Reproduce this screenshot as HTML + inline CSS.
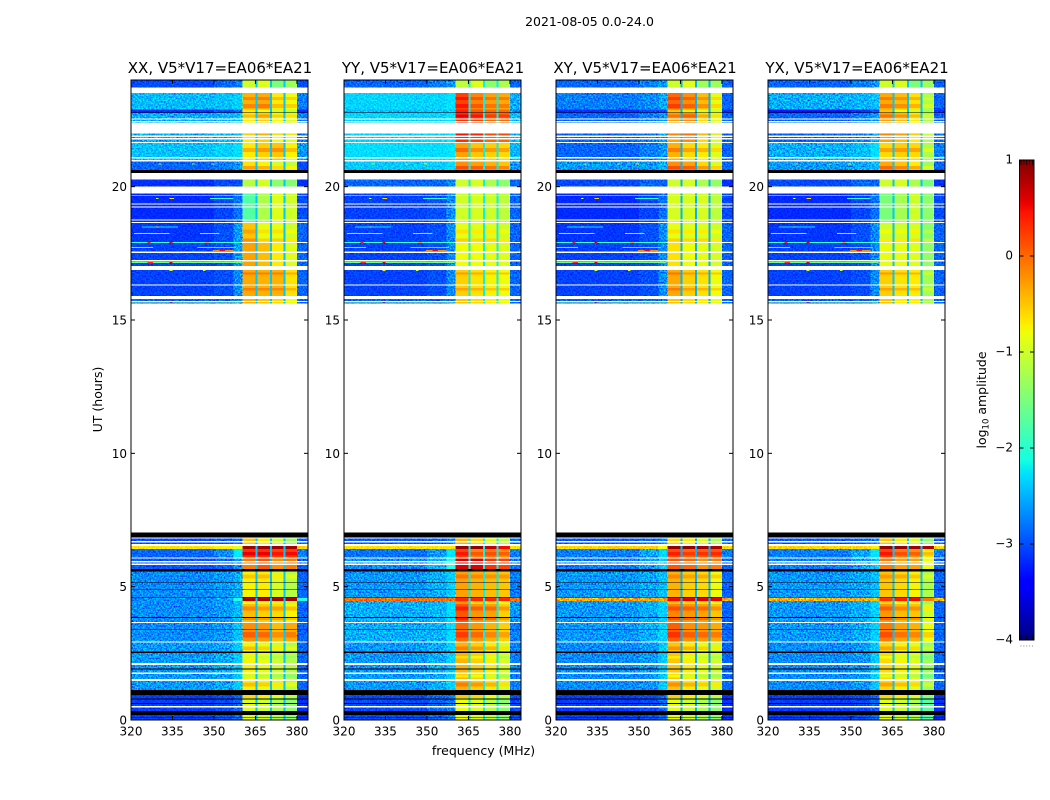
<!DOCTYPE html>
<html lang="en">
<head>
<meta charset="utf-8">
<title>2021-08-05 0.0-24.0</title>
<style>
html,body{margin:0;padding:0;background:#fff;width:1050px;height:800px;overflow:hidden}
svg{display:block}
text{font-family:"DejaVu Sans","Liberation Sans",sans-serif;fill:#000}
.tick{font-size:12px}
.ttl{font-size:15px}
.lbl{font-size:12.5px}
.cells rect{shape-rendering:crispEdges}
.grain{mix-blend-mode:overlay}
</style>
</head>
<body>
<svg id="fig" width="1050" height="800" viewBox="0 0 1050 800" xmlns="http://www.w3.org/2000/svg">
  <defs>
    <filter id="grainFilter" x="0" y="0" width="100%" height="100%" color-interpolation-filters="sRGB">
      <feTurbulence type="fractalNoise" baseFrequency="0.62" numOctaves="2" seed="7"/>
      <feColorMatrix type="matrix" values="1.8 0 0 0 -0.25  1.8 0 0 0 -0.25  1.8 0 0 0 -0.25  0 0 0 0 1"/>
    </filter>
    <linearGradient id="jetGradient" x1="0" y1="1" x2="0" y2="0"></linearGradient>
  </defs>
  <text class="lbl" x="589.5" y="26" text-anchor="middle">2021-08-05 0.0-24.0</text>
  <text class="lbl" x="483.5" y="755" text-anchor="middle">frequency (MHz)</text>
  <text class="lbl" transform="translate(102,399.5) rotate(-90)" text-anchor="middle">UT (hours)</text>
  <text class="lbl" transform="translate(986,400) rotate(-90)" text-anchor="middle">log<tspan font-size="8.5" dy="2.5">10</tspan><tspan dy="-2.5"> amplitude</tspan></text>
</svg>
<script>
// ---------- chart data ----------
const panelNames = ['XX', 'YY', 'XY', 'YX'];
const baselineName = 'V5*V17=EA06*EA21';
const xTicks = [320, 335, 350, 365, 380];
const yTicks = [0, 5, 10, 15, 20];
const cbarTicks = [1, 0, -1, -2, -3, -4];
const cbarTickLabels = ['1', '0', '\u22121', '\u22122', '\u22123', '\u22124'];
const cbarMinorFractions = [0.1, 0.3, 0.5, 0.7, 0.9];
const freqRange = [320, 384];
const timeRange = [0, 24];
const colorRange = [-4, 1];
// channel segments, MHz
const freqEdges = [320, 350, 357, 360.4, 365, 365.8, 370.2, 370.9, 375.2, 375.9, 380, 384];
// block value index for each segment: low, mid, edge, s1, gap, s2, gap, s3, gap, s4, oob
const segmentColumn = [0, 1, 2, 3, 'gap', 4, 'gap', 5, 'gap', 6, 7];
const gapLevels = { XX: -2.4, YY: -2.2, XY: -2.5, YX: -2.4 };

// time rows: [start UT, end UT, block]; block -1 = blacked out; anything not listed stays blank
const timeRows = [
[0,.09,21],[.09,.12,-1],[.12,.19,21],[.19,.34,-1],[.34,.46,21],[.52,.6,21],[.6,.63,-1],[.63,.76,21],[.76,.81,-1],[.81,.94,21],[.94,1.12,-1],
[1.12,1.47,20],[1.53,1.72,20],[1.79,1.9,20],[1.9,1.94,-1],[1.94,2.07,20],[2.13,2.52,20],[2.52,2.56,-1],[2.56,2.9,20],
[2.94,3.39,19],[3.39,3.41,-1],[3.41,3.64,19],[3.67,3.82,18],[3.82,3.86,-1],[3.86,4.46,18],[4.46,4.59,17],[4.59,4.61,-1],
[4.61,4.89,16],[4.89,4.91,-1],[4.91,5.14,16],[5.14,5.16,-1],[5.16,5.56,16],[5.56,5.66,-1],
[5.66,5.81,15],[5.86,5.91,15],[5.96,6.06,15],[6.1,6.41,14],[6.41,6.52,13],[6.6,6.66,12],[6.71,6.81,12],[6.85,7.04,-1],
[15.62,15.68,11],[15.71,15.78,11],[15.9,16.3,10],[16.34,16.87,10],[17.02,17.2,9],[17.25,17.51,9],[17.56,17.89,9],
[17.93,18.64,8],[18.68,18.74,7],[18.77,19.21,7],[19.25,19.34,7],[19.37,19.65,7],[19.67,19.75,7],
[20,20.27,6],[20.52,20.62,-1],[20.62,20.94,5],[21,21.05,4],[21.12,21.64,4],[21.68,21.77,3],[21.82,21.87,3],[21.92,22,3],
[22.38,22.41,3],[22.46,22.51,3],[22.56,22.76,3],[22.76,22.79,-1],[22.79,22.9,2],[22.9,23.52,1],[23.71,24,0]
];

// log10 amplitude per block: low, mid, edge, s1, s2, s3, s4, oob
const levelsXX = [
[-3.1,-3,-2.9,-1,-.9,-1.5,-1.3,-3.1],[-2.6,-2.55,-2.45,-.4,-.35,-.7,-.8,-2.9],[-3.2,-3.1,-3,-.7,-.8,-1,-1.1,-3.2],[-2.7,-2.65,-2.55,-.7,-.55,-.8,-.9,-2.9],
[-2.55,-2.45,-2.35,-.7,-.55,-.5,-.75,-2.8],[-3,-2.9,-2.8,-.65,-.75,-.95,-1.1,-3.1],[-3.2,-3.1,-3.1,-1.15,-.95,-1.4,-1.45,-3.2],[-3.22,-3.12,-2.95,-1.75,-1.2,-.9,-1,-3.1],
[-3.18,-3.08,-2.8,-.5,-.85,-.85,-1,-3],[-3.13,-3.08,-2.8,-.3,-.45,-.7,-.9,-3],[-3.13,-3.08,-2.85,-.35,-.4,-.4,-.65,-3],[-3,-3,-2.9,-.4,-.5,-.6,-.8,-3],
[-3.1,-3.05,-3,-.5,-.7,-1,-1.3,-3],[-.6,-.7,-.9,.85,.85,.85,.85,-.5],[-3,-2.85,-2.25,.3,.3,.2,.25,-2.9],[-3.05,-3,-2.8,-.1,.1,-.2,-.1,-3],
[-2.85,-2.8,-2.7,-.75,-.7,-.95,-1.15,-3],[-2.85,-2.7,-2.1,.8,.8,.8,.8,-2.1],[-2.85,-2.8,-2.6,-.45,-.55,-.6,-.75,-3],[-2.85,-2.8,-2.55,-.2,-.25,-.45,-.35,-3],
[-2.8,-2.75,-2.5,-.75,-.85,-1,-1.15,-3],[-3.15,-3.1,-3,-.9,-1,-1.2,-1.4,-3.2]
];
const levelsYY = [
[-3,-2.9,-2.8,-1.1,-.9,-1.4,-1.2,-3],[-2.42,-2.42,-2.32,.2,-.15,-.3,-.35,-2.7],[-2.55,-2.5,-2.45,.4,.1,0,0,-2.8],[-2.42,-2.42,-2.32,.3,.2,0,0,-2.6],
[-2.36,-2.36,-2.3,-.3,-.5,-.55,-.6,-2.6],[-2.5,-2.45,-2.35,-.2,-.3,-.4,-.5,-2.8],[-3,-3,-2.9,-1,-.95,-1.2,-1.4,-3],[-3.13,-3.08,-2.85,-1,-.95,-1,-1.1,-3],
[-3.13,-3.08,-2.85,-.85,-.9,-.9,-1,-3],[-3.13,-3.08,-2.85,-.8,-.8,-.85,-.9,-3],[-3.13,-3.08,-2.85,-.55,-.65,-.75,-.8,-3],[-3,-3,-2.9,-.5,-.6,-.7,-.8,-3],
[-3.05,-3,-2.9,-.4,-.6,-.85,-1.1,-3],[-.6,-.6,-.6,.9,.9,.7,.5,-.6],[-2.95,-2.8,-2.3,.2,-.15,-.1,-.2,-2.9],[-2.85,-2.6,-2.1,.6,.6,.3,.2,-2.9],
[-2.8,-2.7,-2.45,-.3,-.4,-.45,-.5,-2.9],[.1,.1,.1,.35,.35,.35,.35,.1],[-2.7,-2.65,-2.35,.1,-.25,-.3,-.55,-2.8],[-2.7,-2.65,-2.35,0,-.25,-.4,-.55,-2.9],
[-2.8,-2.7,-2.45,-.4,-.55,-.7,-.95,-2.9],[-3.1,-3,-2.9,-.8,-.9,-1.1,-1.4,-3.1]
];
const levelsXY = [
[-3,-2.9,-2.8,-1,-.9,-1.3,-1.3,-3],[-2.9,-2.85,-2.7,0,-.2,-.45,-.85,-3],[-3.2,-3.1,-3.1,-.5,-.7,-.9,-1,-3.2],[-3,-2.9,-2.8,-.3,-.2,-.6,-.9,-3],
[-3,-2.9,-2.8,-.4,-.6,-.7,-.9,-3],[-2.8,-2.8,-2.7,-.2,-.3,-.6,-.9,-3],[-3.1,-3,-3,-1,-.95,-1.2,-1.35,-3.2],[-3.22,-3.12,-2.95,-.95,-.95,-.95,-1.1,-3.1],
[-3.18,-3.08,-2.85,-.85,-.9,-.9,-1,-3],[-3.13,-3.08,-2.85,-.65,-.8,-.85,-.95,-3],[-3.13,-3.08,-2.85,-.35,-.55,-.65,-.8,-3],[-3,-3,-2.9,-.5,-.6,-.7,-.85,-3],
[-3.05,-3,-2.9,-.6,-.7,-.9,-1.2,-3],[-.5,-.5,-.8,.9,.9,.85,.8,-.5],[-2.9,-2.75,-2.4,.15,0,.05,.1,-2.9],[-2.9,-2.75,-2.5,.1,0,-.2,-.1,-3],
[-2.8,-2.75,-2.55,-.4,-.55,-.6,-.8,-3],[-.15,-.15,-.2,.5,.6,.6,.55,-.2],[-2.8,-2.7,-2.45,-.15,-.25,-.3,-.5,-3],[-2.8,-2.7,-2.45,.05,-.2,-.25,-.35,-3],
[-2.85,-2.8,-2.5,-.5,-.7,-.85,-1,-3],[-3.15,-3.1,-3,-.85,-1,-1.2,-1.4,-3.2]
];
const levelsYX = [
[-3,-2.9,-2.8,-1,-.95,-1.5,-1.3,-3],[-2.7,-2.65,-2.55,-.35,-.45,-.65,-1.2,-3],[-3.3,-3.2,-3.1,-.5,-.8,-1,-1.3,-3.2],[-3,-2.9,-2.8,-.3,-.45,-.7,-1.2,-3],
[-2.7,-2.6,-2.35,-.6,-.55,-.6,-1.2,-2.9],[-2.8,-2.7,-2.6,-.35,-.5,-.7,-1.3,-3],[-3.1,-3,-3,-1,-.95,-1.2,-1.5,-3.2],[-3.22,-3.12,-2.95,-1.5,-1.25,-1,-1.4,-3.1],
[-3.18,-3.08,-2.85,-1,-1,-.95,-1.4,-3],[-3.13,-3.08,-2.85,-.85,-.85,-.9,-1.35,-3],[-3.13,-3.08,-2.85,-.55,-.65,-.7,-1.25,-3],[-3,-3,-2.9,-.5,-.7,-.7,-1.2,-3],
[-3.05,-3,-2.9,-.5,-.7,-.9,-1.4,-3],[-.5,-.5,-.7,.9,.9,.85,.8,-.5],[-2.9,-2.75,-2.3,.2,-.1,-.2,-.7,-2.9],[-2.9,-2.75,-2.5,-.1,-.3,-.3,-.8,-3],
[-2.8,-2.75,-2.55,-.5,-.6,-.75,-1.2,-3],[-.2,-.2,-.3,.3,.4,.5,-.1,-.2],[-2.8,-2.7,-2.45,-.25,-.45,-.5,-1,-3],[-2.8,-2.7,-2.45,-.1,-.3,-.4,-.8,-3],
[-2.85,-2.8,-2.5,-.6,-.75,-.9,-1.3,-3],[-3.15,-3.1,-3,-.9,-1,-1.2,-1.7,-3.2]
];
const panelLevels = { XX: levelsXX, YY: levelsYY, XY: levelsXY, YX: levelsYX };

// horizontal structure inside the bright spectral windows: [start UT, end UT, change in log10 amplitude]
const bandStripes = [
[23.25,23.36,.25],[22.95,23.1,.25],[22.6,22.7,.25],[21.95,22,.3],[21.3,21.45,.3],[20.65,20.78,.35],
[18.25,18.4,.2],[17.95,18.05,.3],[16.7,16.78,.3],[16.1,16.2,.25],[6.16,6.3,.25],[5.3,5.45,.25],
[4.35,4.45,-.35],[4.1,4.25,.3],[3.75,3.82,.3],[3.1,3.3,.25],[2.62,2.75,.3],[2.3,2.4,-.2],[1.6,1.7,-.3],[1.25,1.4,.3],[.82,.94,.3]
];

// narrow interference streaks: [start UT, end UT, from MHz, to MHz, log10 amplitude]
const streaks = [
[20.83,20.87,330,331,-1],[20.83,20.87,342,343,-1],[20.83,20.87,349,350,-.9],
[19.54,19.58,348.5,357,-2],[19.54,19.58,334,335.5,-.6],[19.54,19.58,329,330,-1],
[18.46,18.5,324,337,-2.2],[18.46,18.5,329,330,-.6],
[18.23,18.27,321,335,-1.5],[18.23,18.27,334,335,.5],[18.23,18.27,345,352,-1.5],
[17.89,17.93,320,360,-1.9],[17.89,17.93,334,335,.6],[17.89,17.93,326,327,.4],[17.89,17.93,347,348,-.2],
[17.7,17.74,320,328,-1.8],[17.7,17.74,344,358,-2.1],
[17.59,17.63,349.6,357,-.2],[17.59,17.63,352,354,.5],
[17.14,17.18,320,360,-1.6],[17.14,17.18,326,328,.3],[17.14,17.18,334,335,.6],
[16.84,16.87,334,335,-.9],[16.84,16.87,346,347,-.9],
[15.66,15.68,320,360,-1.2],[15.66,15.68,334,335,.5]
];

// ---------- drawing ----------
const panelLefts = [131, 344, 556, 768];
const panelWidth = 177;
const plotTop = 80;
const plotBottom = 720;
const cbarX = 1019.5;
const cbarW = 14.5;
const cbarTop = 160;
const cbarBottom = 640;
const NS = 'http://www.w3.org/2000/svg';
const fig = document.getElementById('fig');

function jetChannel(knots, t) {
  for (let i = 1; i < knots.length; i++) {
    if (t <= knots[i][0]) {
      const a = knots[i - 1];
      const b = knots[i];
      return a[1] + (b[1] - a[1]) * (t - a[0]) / (b[0] - a[0]);
    }
  }
  return knots[knots.length - 1][1];
}
const jetR = [[0, 0], [.35, 0], [.66, 1], [.89, 1], [1, .5]];
const jetG = [[0, 0], [.125, 0], [.375, 1], [.64, 1], [.91, 0], [1, 0]];
const jetB = [[0, .5], [.11, 1], [.34, 1], [.65, 0], [1, 0]];
function colorOf(v) {
  const t = Math.max(0, Math.min(1, (v - colorRange[0]) / (colorRange[1] - colorRange[0])));
  const c = [jetR, jetG, jetB].map(function (k) { return Math.round(255 * jetChannel(k, t)); });
  return 'rgb(' + c.join(',') + ')';
}
function xScale(left, f) { return left + (f - freqRange[0]) / (freqRange[1] - freqRange[0]) * panelWidth; }
function yScale(h) { return plotBottom - (h - timeRange[0]) / (timeRange[1] - timeRange[0]) * (plotBottom - plotTop); }
function cbarY(v) { return cbarBottom - (v - colorRange[0]) / (colorRange[1] - colorRange[0]) * (cbarBottom - cbarTop); }
function shape(parent, tag, attrs) {
  const el = document.createElementNS(NS, tag);
  for (const k in attrs) el.setAttribute(k, attrs[k]);
  parent.appendChild(el);
  return el;
}

panelNames.forEach(function (name, p) {
  const left = panelLefts[p];
  const levels = panelLevels[name];
  const right = left + panelWidth;
  const g = shape(fig, 'g', {});
  
  

  const cells = shape(g, 'g', { 'class': 'cells' });
  
  

  timeRows.forEach(function (row) {
    const y0 = yScale(row[1]);
    const h = yScale(row[0]) - y0;
    if (row[2] < 0) {
      const bar = shape(cells, 'rect', { x: left, y: y0, width: panelWidth, height: h, fill: '#000' });
      
      
      return;
    }
    for (let s = 0; s < segmentColumn.length; s++) {
      const col = segmentColumn[s];
      const v = col === 'gap' ? gapLevels[name] : levels[row[2]][col];
      const x0 = xScale(left, freqEdges[s]);
      const x1 = xScale(left, freqEdges[s + 1]);
      const cell = shape(cells, 'rect', { x: x0, y: y0, width: x1 - x0, height: h, fill: colorOf(v) });
      
      
    }
  });

  // stripes only apply where a data row exists
  bandStripes.forEach(function (st) {
    const mid = (st[0] + st[1]) / 2;
    const row = timeRows.find(function (r) { return r[0] <= mid && mid < r[1] && r[2] >= 0; });
    if (!row) return;
    for (let s = 0; s < segmentColumn.length; s++) {
      const col = segmentColumn[s];
      if (col === 'gap' || col < 3 || col > 6) continue;
      const x0 = xScale(left, freqEdges[s]);
      const x1 = xScale(left, freqEdges[s + 1]);
      const y0 = yScale(st[1]);
      const stripe = shape(cells, 'rect', { x: x0, y: y0, width: x1 - x0, height: yScale(st[0]) - y0, fill: colorOf(levels[row[2]][col] + st[2]) });
      
      
    }
  });

  // fine-grain texture over the out-of-band area
  const grainA = shape(g, 'rect', { x: left, y: plotTop, width: xScale(left, 360.4) - left, height: plotBottom - plotTop, filter: 'url(#grainFilter)', 'class': 'grain' });
  
  
  const grainB = shape(g, 'rect', { x: xScale(left, 380), y: plotTop, width: right - xScale(left, 380), height: plotBottom - plotTop, filter: 'url(#grainFilter)', 'class': 'grain' });
  
  

  // streaks sit above the texture so their colours stay true
  const streakLayer = shape(g, 'g', { 'class': 'cells' });
  
  
  streaks.forEach(function (st) {
    const y0 = yScale(st[1]);
    const x0 = xScale(left, st[2]);
    const streak = shape(streakLayer, 'rect', { x: x0, y: y0, width: xScale(left, st[3]) - x0, height: yScale(st[0]) - y0, fill: colorOf(st[4]) });
    
    
  });

  const frame = shape(g, 'rect', { x: left, y: plotTop, width: panelWidth, height: plotBottom - plotTop, fill: 'none', stroke: '#000', 'stroke-width': 1 });
  
  

  const title = shape(g, 'text', { 'class': 'ttl', x: left + panelWidth / 2 + 0.5, y: 73, 'text-anchor': 'middle' });
  title.textContent = name + ', ' + baselineName;
  
  

  xTicks.forEach(function (f) {
    const x = xScale(left, f);
    const tb = shape(g, 'line', { x1: x, x2: x, y1: plotBottom, y2: plotBottom - 4, stroke: '#000' });
    
    
    const tt = shape(g, 'line', { x1: x, x2: x, y1: plotTop, y2: plotTop + 4, stroke: '#000' });
    
    
    const lab = shape(g, 'text', { 'class': 'tick', x: x, y: 735.5, 'text-anchor': 'middle' });
    lab.textContent = String(f);
    
    
  });

  yTicks.forEach(function (h) {
    const y = yScale(h);
    const tl = shape(g, 'line', { x1: left, x2: left + 4, y1: y, y2: y, stroke: '#000' });
    
    
    const tr = shape(g, 'line', { x1: right, x2: right - 4, y1: y, y2: y, stroke: '#000' });
    
    
    const lab = shape(g, 'text', { 'class': 'tick', x: left - 4, y: y + 4.5, 'text-anchor': 'end' });
    lab.textContent = String(h);
    
    
  });
});

// colorbar
const grad = document.getElementById('jetGradient');
for (let i = 0; i <= 64; i++) {
  const frac = i / 64;
  shape(grad, 'stop', { offset: frac, 'stop-color': colorOf(colorRange[0] + frac * (colorRange[1] - colorRange[0])) });
}
const cbar = shape(fig, 'g', {});


const cbarBody = shape(cbar, 'rect', { x: cbarX, y: cbarTop, width: cbarW, height: cbarBottom - cbarTop, fill: 'url(#jetGradient)', stroke: '#000', 'stroke-width': 1 });



cbarTicks.forEach(function (v, i) {
  const y = cbarY(v);
  const tl = shape(cbar, 'line', { x1: cbarX, x2: cbarX + 4, y1: y, y2: y, stroke: '#000' });
  
  
  const tr = shape(cbar, 'line', { x1: cbarX + cbarW, x2: cbarX + cbarW - 4, y1: y, y2: y, stroke: '#000' });
  
  
  const lab = shape(cbar, 'text', { 'class': 'tick', x: 1013, y: y + 3.5, 'text-anchor': 'end' });
  lab.textContent = cbarTickLabels[i];
  
  
});

cbarMinorFractions.forEach(function (fr) {
  const x = cbarX + fr * cbarW;
  const top = shape(cbar, 'line', { x1: x, x2: x, y1: cbarTop, y2: cbarTop + 5, stroke: '#000', 'stroke-width': 0.8 });
  
  
  const bot = shape(cbar, 'line', { x1: x, x2: x, y1: cbarBottom, y2: cbarBottom - 5, stroke: '#000', 'stroke-width': 0.8 });
  
  
  const dot = shape(cbar, 'rect', { x: x - 0.5, y: 645.5, width: 1, height: 1, fill: '#888' });
  
  
});
</script>
</body>
</html>
